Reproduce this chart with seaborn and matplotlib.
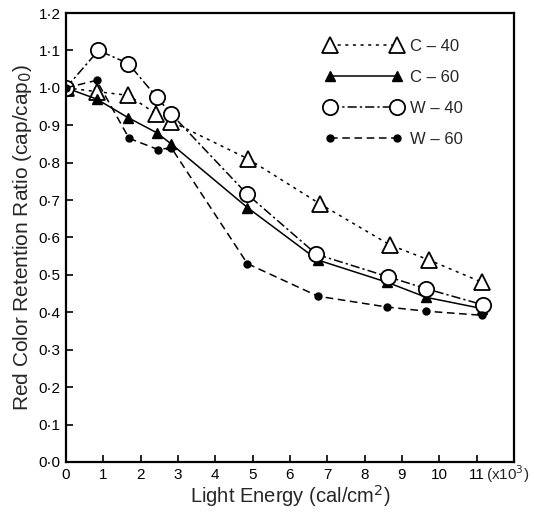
import pandas as pd
import matplotlib
matplotlib.use("Agg")
import matplotlib.pyplot as plt
import seaborn as sns

sns.set_style("ticks")
plt.rcParams['font.family'] = ['Liberation Sans', 'DejaVu Sans']

# light energy (x10^3 cal/cm2) and retention ratio for each sample
c40_x = [0, 0.82, 1.67, 2.42, 2.82, 4.88, 6.8, 8.68, 9.72, 11.15]
c40_y = [1.0, 0.99, 0.98, 0.93, 0.91, 0.81, 0.69, 0.58, 0.54, 0.48]

c60_x = [0, 0.82, 1.67, 2.43, 2.82, 4.86, 6.74, 8.61, 9.65, 11.15]
c60_y = [1.0, 0.97, 0.92, 0.88, 0.85, 0.68, 0.54, 0.48, 0.44, 0.41]

w40_x = [0, 0.87, 1.67, 2.43, 2.82, 4.86, 6.71, 8.63, 9.65, 11.17]
w40_y = [1.0, 1.10, 1.065, 0.975, 0.93, 0.715, 0.555, 0.495, 0.463, 0.42]

w60_x = [0, 0.82, 1.69, 2.47, 2.82, 4.86, 6.75, 8.61, 9.65, 11.15]
w60_y = [1.0, 1.02, 0.865, 0.835, 0.84, 0.53, 0.443, 0.414, 0.403, 0.392]

x_ticks = list(range(12))
x_labels = [str(i) for i in range(12)]
y_ticks = [i / 10 for i in range(13)]
y_labels = [f"{v:.1f}".replace(".", "·") for v in y_ticks]

fig = plt.figure(figsize=(5.39, 5.16), dpi=100)
ax = fig.add_axes([0.1224, 0.1047, 0.8312, 0.8701])

series = [
    ("C – 40", c40_x, c40_y, dict(linestyle=(0, (2, 3)), marker="^", markersize=11,
                                  markerfacecolor="white", markeredgewidth=1.3)),
    ("C – 60", c60_x, c60_y, dict(linestyle="-", marker="^", markersize=7,
                                  markerfacecolor="black", markeredgewidth=1)),
    ("W – 40", w40_x, w40_y, dict(linestyle=(0, (6, 2, 1.5, 2)), marker="o", markersize=11,
                                  markerfacecolor="white", markeredgewidth=1.3)),
    ("W – 60", w60_x, w60_y, dict(linestyle=(0, (5, 3)), marker="o", markersize=5,
                                  markerfacecolor="black", markeredgewidth=1)),
]

for name, xs, ys, style in series:
    df = pd.DataFrame({"x": xs, "y": ys})
    sns.lineplot(data=df, x="x", y="y", ax=ax, color="black", linewidth=1.1,
                 markeredgecolor="black", sort=False, label=name, **style)

ax.set_xlim(0, 12)
ax.set_ylim(0, 1.2)
ax.set_xticks(x_ticks)
ax.set_xticklabels(x_labels, fontsize=11)
ax.set_yticks(y_ticks)
ax.set_yticklabels(y_labels, fontsize=11)
ax.tick_params(direction="in", length=5, width=1.2, colors="black", pad=4)
for sp in ax.spines.values():
    sp.set_linewidth(1.6)
    sp.set_color("black")

# multiplier note after the last tick label
ax.annotate("(x10$^3$)", xy=(11, 0), xycoords="data", xytext=(7, -9),
            textcoords="offset points", ha="left", va="center", fontsize=11)

ax.set_xlabel("Light Energy (cal/cm$^2$)", fontsize=14.5, labelpad=1)
ax.set_ylabel("Red Color Retention Ratio (cap/cap$_0$)", fontsize=15, labelpad=3)

leg = ax.legend(loc="upper left", bbox_to_anchor=(0.545, 0.975), frameon=False,
                numpoints=2, handlelength=4.6, fontsize=12, labelspacing=0.95,
                handletextpad=0.5)

fig.savefig("out.png", dpi=100)
